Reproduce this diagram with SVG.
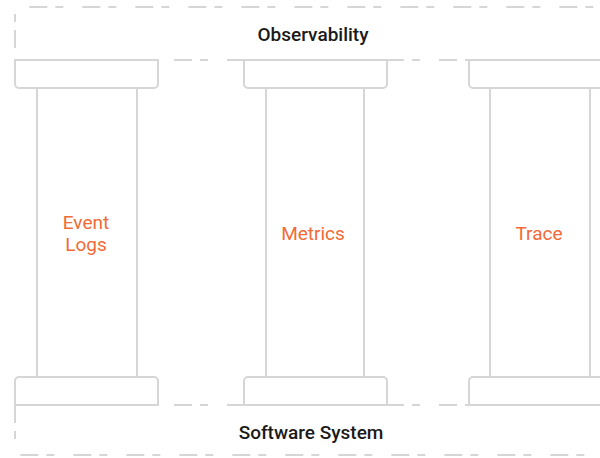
<svg xmlns="http://www.w3.org/2000/svg" width="600" height="458" viewBox="0 0 600 458">
<style>
.dash{fill:none;stroke:#d6d6d6;stroke-width:2;stroke-dasharray:18 8 8 19}
.pil{fill:#fff;stroke:#d6d6d6;stroke-width:2}
.title{font-family:Roboto,"Liberation Sans",sans-serif;font-weight:500;font-size:19px;fill:#1a1a1a;text-anchor:middle}
.lbl{font-family:Roboto,"Liberation Sans",sans-serif;font-size:19px;fill:#f26a36;text-anchor:middle}
</style>
<rect width="600" height="458" fill="#fff"/>
<g id="observability">
<path class="dash" d="M15,60 V12 A5,5 0 0 1 20,7 H600" style="stroke-dashoffset:-12"/>
<path class="dash" d="M15,60 H600"/>
<text class="title" x="313" y="41">Observability</text>
</g>
<g id="software-system">
<path class="dash" d="M15,405 V450 A5,5 0 0 0 20,455 H600"/>
<path class="dash" d="M15,405 H600"/>
<text class="title" x="311" y="439">Software System</text>
</g>
<g id="event-logs">
<rect class="pil" x="37" y="88" width="100" height="289"/>
<path class="pil" d="M15,60 H158 V84 A4,4 0 0 1 154,88 H19 A4,4 0 0 1 15,84 Z"/>
<path class="pil" d="M15,405 V381 A4,4 0 0 1 19,377 H154 A4,4 0 0 1 158,381 V405 Z"/>
<text class="lbl" x="86" y="229">Event</text>
<text class="lbl" x="86" y="251">Logs</text>
</g>
<g id="metrics">
<rect class="pil" x="266" y="88" width="98" height="289"/>
<path class="pil" d="M244,60 H387 V84 A4,4 0 0 1 383,88 H248 A4,4 0 0 1 244,84 Z"/>
<path class="pil" d="M244,405 V381 A4,4 0 0 1 248,377 H383 A4,4 0 0 1 387,381 V405 Z"/>
<text class="lbl" x="313" y="240">Metrics</text>
</g>
<g id="trace">
<rect class="pil" x="490" y="88" width="100" height="289"/>
<path class="pil" d="M469,60 H612 V84 A4,4 0 0 1 608,88 H473 A4,4 0 0 1 469,84 Z"/>
<path class="pil" d="M469,405 V381 A4,4 0 0 1 473,377 H608 A4,4 0 0 1 612,381 V405 Z"/>
<text class="lbl" x="539" y="240">Trace</text>
</g>
<g id="connectors"></g>
</svg>
